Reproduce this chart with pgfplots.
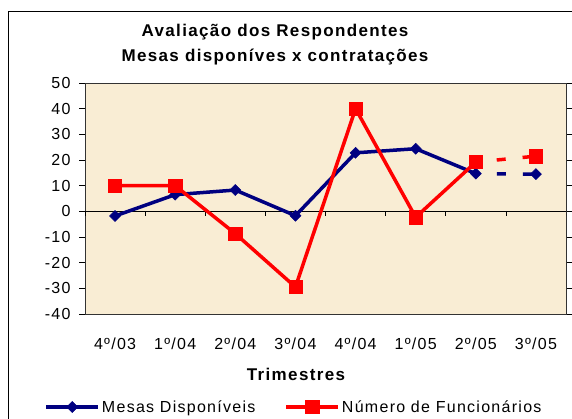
\documentclass[border=0pt]{standalone}
\usepackage{pgfplots}
\pgfplotsset{compat=1.18}
\usepackage{fontspec}
\setmainfont{Liberation Sans}[LetterSpace=8]
\definecolor{bgc}{RGB}{249,237,212}
\definecolor{navyc}{RGB}{0,0,128}
\begin{document}
\begin{tikzpicture}
\useasboundingbox (0,0) rectangle (572pt,419pt);
\draw[line width=1pt] (8pt,-20pt) rectangle (590pt,407pt);
\node[font=\fontsize{17}{25}\selectfont\bfseries, align=center] at (275pt,374.5pt) {Avaliação dos Respondentes\\Mesas disponíves x contratações};
\node[font=\fontsize{17}{20}\selectfont\bfseries] at (296pt,44.5pt) {Trimestres};
\begin{axis}[
  at={(85pt,105pt)}, anchor=south west,
  scale only axis, width=481pt, height=231pt,
  xmin=-0.5, xmax=7.5, ymin=-40, ymax=50,
  ytick={-40,-30,...,50},
  xtick={0,...,7},
  xticklabels={4º/03,1º/04,2º/04,3º/04,4º/04,1º/05,2º/05,3º/05},
  axis background/.style={fill=bgc},
  axis line style={draw=black!80, line width=0.8pt},
  tick align=outside, major tick length=6pt,
  x tick style={draw=none},
  y tick style={black, line width=0.6pt},
  tick label style={font=\fontsize{16}{19}\selectfont},
  /pgf/number format/assume math mode=true,
  xticklabel style={yshift=-14pt},
  yticklabel style={xshift=-5pt},
  legend style={at={(0.4345,-0.4026)}, anchor=center, draw=none, fill=none,
    legend columns=2, font=\fontsize{16}{19}\selectfont,
    /tikz/every even column/.append style={column sep=27pt}},
  legend cell align=left,
  legend image code/.code={\draw[mark repeat=2,mark phase=2,#1] plot coordinates {(0pt,0pt) (26pt,0pt) (52pt,0pt)};},
]
\draw[black, line width=0.8pt] (axis cs:-0.5,0) -- (axis cs:7.5,0);
\pgfplotsinvokeforeach{-0.5,0.5,1.5,2.5,3.5,4.5,5.5,6.5,7.5}{
  \draw[black, line width=0.6pt] (axis cs:#1,0) -- ++(0pt,-5pt);
}
\addplot[navyc, line width=3.5pt, mark=square*, mark size=3.9pt,
  mark options={rotate=45, solid, line width=0.5pt}]
  coordinates {(0,-1.8) (1,6.5) (2,8.3) (3,-1.7) (4,22.8) (5,24.4) (6,14.7)};
\addlegendentry{Mesas Disponíveis}
\addplot[red, line width=3.5pt, mark=square*, mark size=6.6pt,
  mark options={solid, line width=0.5pt}]
  coordinates {(0,10) (1,10) (2,-8.7) (3,-29.5) (4,40) (5,-2.3) (6,19.2)};
\addlegendentry{Número de Funcionários}
\addplot[navyc, line width=3.5pt, dash pattern=on 9pt off 17pt, dash phase=5pt,
  mark=square*, mark size=3.9pt, mark indices={2},
  mark options={rotate=45, solid, line width=0.5pt}, forget plot]
  coordinates {(6,14.7) (7,14.5)};
\addplot[red, line width=3.5pt, dash pattern=on 9pt off 17pt, dash phase=5pt,
  mark=square*, mark size=6.6pt, mark indices={2},
  mark options={solid, line width=0.5pt}, forget plot]
  coordinates {(6,19.2) (7,21.5)};
\end{axis}
\end{tikzpicture}
\end{document}
